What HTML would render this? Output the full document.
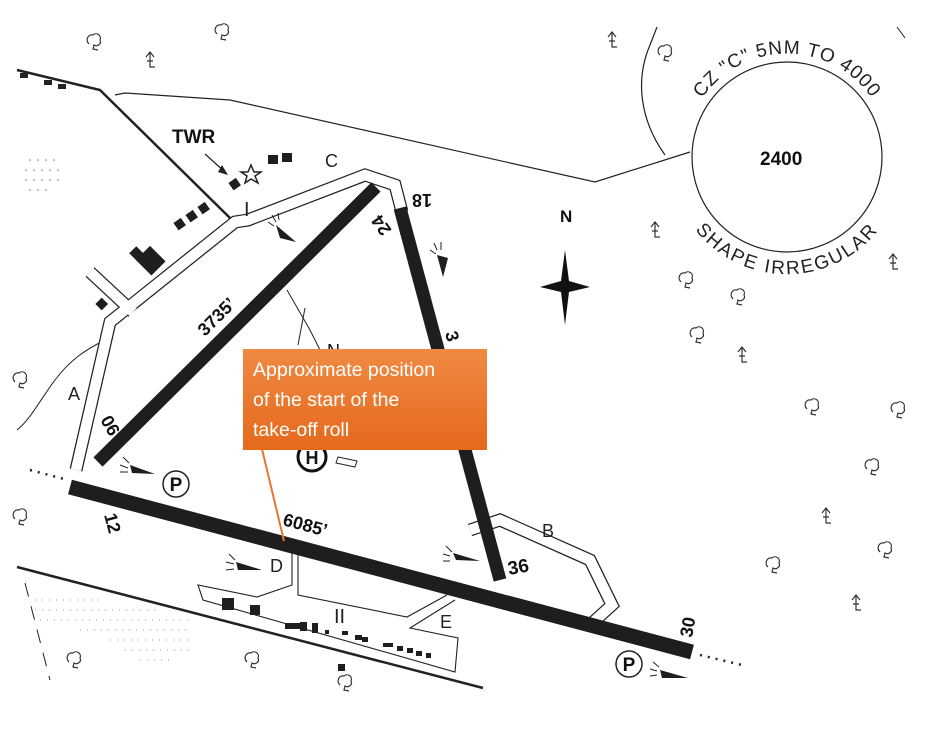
<!DOCTYPE html>
<html><head><meta charset="utf-8"><style>
html,body{margin:0;padding:0;background:#fff;}
svg{display:block;font-family:"Liberation Sans",Arial,sans-serif;}
</style></head><body>
<svg width="945" height="734" viewBox="0 0 945 734" xmlns="http://www.w3.org/2000/svg">
<defs>
<linearGradient id="og" x1="0" y1="0" x2="0" y2="1"><stop offset="0" stop-color="#f08a43"/><stop offset="1" stop-color="#e4691c"/></linearGradient>
<path id="topArc" d="M 690 122 A 103 103 0 0 1 884 122"/>
<path id="botArc" d="M 677 197 A 117 117 0 0 0 897 197"/>
<g id="tree" fill="none" stroke="#333" stroke-width="1.2"><path d="M-5 2 C-9 -2 -6 -8 -1 -7 C2 -10 8 -7 6 -2 C8 2 3 5 0 3 L-1 7 L4 8"/></g>
<g id="pine" fill="none" stroke="#333" stroke-width="1.2"><path d="M0 -8 L0 7 L5 7 M-4 -3 L0 -8 L4 -3 M-3 1 L3 1"/></g>
</defs>

<path d="M17 70 L100 90 L230 218" fill="none" stroke="#222" stroke-width="2.5"/>
<path d="M115 95 L125 93 L230 100 L595 182 L690 152" fill="none" stroke="#222" stroke-width="1.2"/>
<path d="M665 155 C640 120 635 80 650 45 L657 27" fill="none" stroke="#222" stroke-width="1.2"/>
<path d="M17 567 L483 688" fill="none" stroke="#222" stroke-width="2.5"/>
<path d="M17 430 C30 420 40 400 55 380 C70 360 85 350 105 340" fill="none" stroke="#222" stroke-width="1"/>
<path d="M287 290 L310 330 L325 360 M305 308 L298 345" fill="none" stroke="#222" stroke-width="1"/>
<path d="M25 583 L50 680" fill="none" stroke="#222" stroke-width="1" stroke-dasharray="14,10"/>
<rect x="20" y="73" width="8" height="5" fill="#222"/><rect x="44" y="80" width="8" height="5" fill="#222"/><rect x="58" y="84" width="8" height="5" fill="#222"/>

<g fill="none" stroke-linejoin="miter">
<g stroke="#222" stroke-width="13">
<path d="M76 470 L110 322 L235 222 L248 220 L365 175 L395 185 L402 212"/>
<path d="M90 272 L133 312"/>
<path d="M470 530 L500 520 L590 560 L612 605 L590 625"/>
</g>
<g stroke="#fff" stroke-width="10.5">
<path d="M76 470 L110 322 L235 222 L248 220 L365 175 L395 185 L402 212"/>
<path d="M90 272 L133 312"/>
<path d="M470 530 L500 520 L590 560 L612 605 L590 625"/>
</g>
</g>
<g fill="none" stroke="#222" stroke-width="1.1">
<path d="M292 553 L292 585 L257 597 L198 585 L203 600 L455 672 L458 638 L410 628 L455 600"/>
<path d="M298 555 L298 595 L407 617 L447 595"/>
</g>

<line x1="70" y1="487" x2="692" y2="652" stroke="#1e1e1e" stroke-width="15"/>
<line x1="98" y1="462" x2="376" y2="187" stroke="#1e1e1e" stroke-width="13"/>
<line x1="400" y1="208" x2="500" y2="580" stroke="#1e1e1e" stroke-width="13"/>
<path d="M30 470 L68 480" stroke="#222" stroke-width="2.5" stroke-dasharray="2,6" fill="none"/>
<path d="M700 655 L742 665" stroke="#222" stroke-width="2.5" stroke-dasharray="2,6" fill="none"/>

<g fill="#1e1e1e">
<rect x="268" y="155" width="10" height="9"/><rect x="282" y="153" width="10" height="9"/>
<rect x="230" y="180" width="9" height="9" transform="rotate(-35 234 184)"/>
<rect x="175" y="220" width="9" height="9" transform="rotate(-35 179 224)"/>
<rect x="187" y="212" width="9" height="9" transform="rotate(-35 191 216)"/>
<rect x="199" y="204" width="9" height="9" transform="rotate(-35 203 208)"/>
<rect x="140" y="250" width="20" height="22" transform="rotate(-45 150 260)"/>
<rect x="132" y="248" width="10" height="12" transform="rotate(-45 137 254)"/>
<rect x="97" y="300" width="9" height="9" transform="rotate(-45 101 304)"/>
<rect x="222" y="598" width="12" height="12"/><rect x="250" y="605" width="10" height="10"/>
<rect x="285" y="623" width="18" height="6"/><rect x="300" y="622" width="7" height="9"/><rect x="312" y="623" width="6" height="10"/>
<rect x="325" y="630" width="4" height="4"/><rect x="342" y="631" width="6" height="4"/><rect x="355" y="635" width="7" height="5"/><rect x="362" y="637" width="6" height="5"/>
<rect x="383" y="643" width="10" height="4"/><rect x="397" y="646" width="6" height="5"/><rect x="407" y="648" width="6" height="5"/><rect x="416" y="651" width="6" height="5"/><rect x="426" y="653" width="5" height="5"/>
<rect x="338" y="664" width="7" height="7"/>
</g>
<polygon points="248,172 251,165 254,172 261,172 255,176 258,183 251,179 245,183 247,176 241,172" fill="#fff" stroke="#222" stroke-width="1.5"/>
<line x1="205" y1="154" x2="225" y2="172" stroke="#222" stroke-width="1.2"/>
<polygon points="222,165 228,175 218,172" fill="#222"/>

<g fill="#777">
<circle cx="30" cy="160" r=".8"/><circle cx="38" cy="160" r=".8"/><circle cx="46" cy="160" r=".8"/><circle cx="54" cy="160" r=".8"/>
<circle cx="26" cy="170" r=".8"/><circle cx="34" cy="170" r=".8"/><circle cx="42" cy="170" r=".8"/><circle cx="50" cy="170" r=".8"/><circle cx="58" cy="170" r=".8"/>
<circle cx="26" cy="180" r=".8"/><circle cx="34" cy="180" r=".8"/><circle cx="42" cy="180" r=".8"/><circle cx="50" cy="180" r=".8"/><circle cx="58" cy="180" r=".8"/>
<circle cx="30" cy="190" r=".8"/><circle cx="38" cy="190" r=".8"/><circle cx="46" cy="190" r=".8"/>
</g>
<path d="M35 600 H100 M35 610 H160 M40 620 H190 M80 630 H190 M110 640 H190 M125 650 H190 M140 660 H170" stroke="#999" stroke-width="1" stroke-dasharray="1,6"/>

<g fill="#1e1e1e">
<polygon points="276,225 296,242 280,238"/><polygon points="437,255 443,277 448,258"/>
<polygon points="130,465 155,474 132,473"/><polygon points="236,562 262,570 238,570"/>
<polygon points="453,553 480,561 456,560"/><polygon points="660,670 688,678 662,678"/>
</g>
<g stroke="#222" stroke-width="1" fill="none">
<path d="M268 222 L274 226 M272 215 L276 222 M278 213 L279 220"/>
<path d="M430 250 L436 254 M434 243 L437 250 M441 242 L441 250"/>
<path d="M120 465 L128 468 M123 457 L129 463 M120 472 L128 472"/>
<path d="M226 562 L234 564 M229 554 L235 560 M226 570 L234 569"/>
<path d="M443 554 L450 556 M446 546 L452 552 M443 561 L450 561"/>
<path d="M650 669 L657 671 M653 662 L659 667 M650 676 L657 675"/>
</g>

<circle cx="176" cy="484" r="13" fill="#fff" stroke="#222" stroke-width="1.5"/>
<text x="176" y="491" font-size="19" font-weight="bold" text-anchor="middle" fill="#111">P</text>
<circle cx="629" cy="664" r="13" fill="#fff" stroke="#222" stroke-width="1.5"/>
<text x="629" y="671" font-size="19" font-weight="bold" text-anchor="middle" fill="#111">P</text>
<circle cx="312" cy="457" r="14" fill="#fff" stroke="#111" stroke-width="3"/>
<text x="312" y="464" font-size="18" font-weight="bold" text-anchor="middle" fill="#111">H</text>
<polygon points="338,457 357,461 355,467 336,463" fill="#fff" stroke="#222" stroke-width="1"/>

<g fill="#111" font-weight="bold">
<text x="172" y="143" font-size="19">TWR</text>
<text x="560" y="222" font-size="17">N</text>
<text x="760" y="165" font-size="19">2400</text>
<text transform="translate(205,337) rotate(-45)" font-size="18">3735’</text>
<text transform="translate(282,525) rotate(15)" font-size="18">6085’</text>
<text transform="translate(509,575) rotate(-10)" font-size="19">36</text>
<text transform="translate(100,420) rotate(60)" font-size="18">06</text>
<text transform="translate(104,515) rotate(75)" font-size="18">12</text>
<text transform="translate(392,230) rotate(-125)" font-size="18">24</text>
<text transform="translate(432,194) rotate(180)" font-size="18">18</text>
<text transform="translate(692,638) rotate(-80)" font-size="18">30</text>
<text transform="translate(445,333) rotate(75)" font-size="18">3</text>
<text x="327" y="357" font-size="18" font-weight="normal">N</text>
</g>
<g fill="#222" font-size="18">
<text x="325" y="167">C</text><text x="68" y="400">A</text><text x="542" y="537">B</text>
<text x="270" y="572">D</text><text x="440" y="628">E</text>
<text x="244" y="216" font-size="20">I</text><text x="334" y="623" font-size="20">II</text>
</g>

<polygon points="565,250 569,281 590,287 569,292 565,325 561,292 540,287 561,281" fill="#111"/>

<circle cx="787" cy="157" r="95" fill="none" stroke="#222" stroke-width="1.2"/>
<text font-size="19" fill="#222" letter-spacing="1"><textPath href="#topArc" startOffset="50%" text-anchor="middle">CZ "C" 5NM TO 4000</textPath></text>
<text font-size="19" fill="#222" letter-spacing="2"><textPath href="#botArc" startOffset="50%" text-anchor="middle">SHAPE IRREGULAR</textPath></text>
<path d="M897 27 L905 38" stroke="#222" stroke-width="1"/>

<use href="#tree" x="94" y="42"/><use href="#tree" x="222" y="32"/><use href="#tree" x="665" y="53"/>
<use href="#tree" x="686" y="280"/><use href="#tree" x="738" y="297"/><use href="#tree" x="697" y="335"/>
<use href="#tree" x="812" y="407"/><use href="#tree" x="898" y="410"/><use href="#tree" x="872" y="467"/>
<use href="#tree" x="885" y="550"/><use href="#tree" x="773" y="565"/><use href="#tree" x="74" y="660"/>
<use href="#tree" x="252" y="660"/><use href="#tree" x="345" y="683"/><use href="#tree" x="20" y="380"/><use href="#tree" x="20" y="517"/>
<use href="#pine" x="150" y="60"/><use href="#pine" x="612" y="40"/><use href="#pine" x="655" y="230"/>
<use href="#pine" x="893" y="262"/><use href="#pine" x="742" y="355"/><use href="#pine" x="826" y="516"/><use href="#pine" x="856" y="603"/>

<line x1="262" y1="449" x2="284" y2="541" stroke="#e8762c" stroke-width="2"/>
<rect x="243" y="349" width="244" height="101" fill="url(#og)"/>
<g fill="#fff" font-size="19.5" font-family="'Liberation Sans',sans-serif">
<text x="253" y="376">Approximate position</text>
<text x="253" y="406">of the start of the</text>
<text x="253" y="436">take-off roll</text>
</g>
</svg>
</body></html>
